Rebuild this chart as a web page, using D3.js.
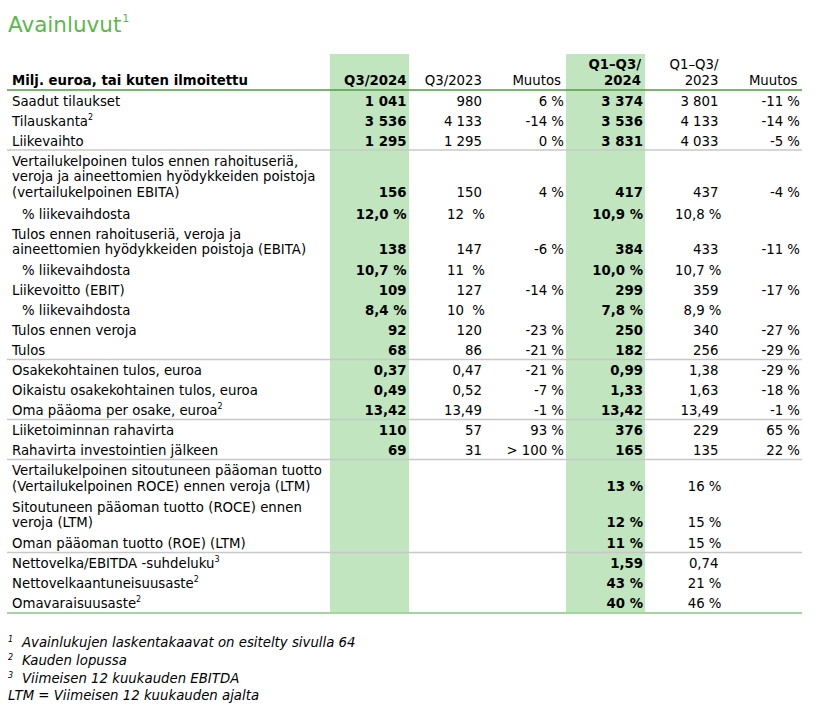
<!DOCTYPE html>
<html><head><meta charset="utf-8">
<script src="https://cdn.jsdelivr.net/npm/d3@7"></script>
<style>
html,body{margin:0;padding:0;background:#fff;}
svg text{font-family:"DejaVu Sans",Verdana,sans-serif;white-space:pre;}
</style></head>
<body><svg id="c" width="831" height="708"></svg>
<script>
// ---------- DATA ----------
const title = "Avainluvut";
const headerLabel = "Milj. euroa, tai kuten ilmoitettu";
const columnHeaders = [["Q3/2024"], ["Q3/2023"], ["Muutos"], ["Q1\u2013Q3/", "2024"], ["Q1\u2013Q3/", "2023"], ["Muutos"]];
const rowLabels = [
  ["Saadut tilaukset"],
  ["Tilauskanta"],
  ["Liikevaihto"],
  ["Vertailukelpoinen tulos ennen rahoituseriä,", "veroja ja aineettomien hyödykkeiden poistoja", "(vertailukelpoinen EBITA)"],
  ["% liikevaihdosta"],
  ["Tulos ennen rahoituseriä, veroja ja", "aineettomien hyödykkeiden poistoja (EBITA)"],
  ["% liikevaihdosta"],
  ["Liikevoitto (EBIT)"],
  ["% liikevaihdosta"],
  ["Tulos ennen veroja"],
  ["Tulos"],
  ["Osakekohtainen tulos, euroa"],
  ["Oikaistu osakekohtainen tulos, euroa"],
  ["Oma pääoma per osake, euroa"],
  ["Liiketoiminnan rahavirta"],
  ["Rahavirta investointien jälkeen"],
  ["Vertailukelpoinen sitoutuneen pääoman tuotto", "(Vertailukelpoinen ROCE) ennen veroja (LTM)"],
  ["Sitoutuneen pääoman tuotto (ROCE) ennen", "veroja (LTM)"],
  ["Oman pääoman tuotto (ROE) (LTM)"],
  ["Nettovelka/EBITDA -suhdeluku"],
  ["Nettovelkaantuneisuusaste"],
  ["Omavaraisuusaste"]
];
const rowNotes = ["", "2", "", "", "", "", "", "", "", "", "", "", "", "2", "", "", "", "", "", "3", "2", "2"];
const rowIndented = [false, false, false, false, true, false, true, false, true, false, false, false, false, false, false, false, false, false, false, false, false, false];
const q3_2024 = ["1 041", "3 536", "1 295", "156", "12,0 %", "138", "10,7 %", "109", "8,4 %", "92", "68", "0,37", "0,49", "13,42", "110", "69", "", "", "", "", "", ""];
const q3_2023 = ["980", "4 133", "1 295", "150", "12  %", "147", "11  %", "127", "10  %", "120", "86", "0,47", "0,52", "13,49", "57", "31", "", "", "", "", "", ""];
const changeQ3 = ["6 %", "-14 %", "0 %", "4 %", "", "-6 %", "", "-14 %", "", "-23 %", "-21 %", "-21 %", "-7 %", "-1 %", "93 %", "> 100 %", "", "", "", "", "", ""];
const ytd_2024 = ["3 374", "3 536", "3 831", "417", "10,9 %", "384", "10,0 %", "299", "7,8 %", "250", "182", "0,99", "1,33", "13,42", "376", "165", "13 %", "12 %", "11 %", "1,59", "43 %", "40 %"];
const ytd_2023 = ["3 801", "4 133", "4 033", "437", "10,8 %", "433", "10,7 %", "359", "8,9 %", "340", "256", "1,38", "1,63", "13,49", "229", "135", "16 %", "15 %", "15 %", "0,74", "21 %", "46 %"];
const changeYtd = ["-11 %", "-14 %", "-5 %", "-4 %", "", "-11 %", "", "-17 %", "", "-27 %", "-29 %", "-29 %", "-18 %", "-1 %", "65 %", "22 %", "", "", "", "", "", ""];
const separatorsAfter = [2, 10, 13, 15, 18];
const footnoteMarks = ["1", "2", "3", ""];
const footnoteTexts = ["Avainlukujen laskentakaavat on esitelty sivulla 64", "Kauden lopussa", "Viimeisen 12 kuukauden EBITDA", "LTM = Viimeisen 12 kuukauden ajalta"];

// ---------- LAYOUT ----------
const svg = d3.select("#c");
const FS = 13.3;
const columns = [q3_2024, q3_2023, changeQ3, ytd_2024, ytd_2023, changeYtd];
const colKeys = d3.range(columns.length);
const colRight = d3.scaleOrdinal().domain(colKeys).range([406.5, 482, 564, 643, 718.5, 800]);
const headRight = d3.scaleOrdinal().domain(colKeys).range([406.5, 482, 561, 641, 718.5, 797.5]);
const boldCol = d3.scaleOrdinal().domain(colKeys).range([true, false, false, true, false, false]);
const highlight = [{x0: 330, x1: 409}, {x0: 566, x1: 645}];

// row baselines computed cumulatively
const ROW = 20, EXTRA = 16.5, LINE = 15.75;
const firstBase = [];
let base = 105.5;
rowLabels.forEach((lines, i) => {
  firstBase.push(base);
  base += (lines.length - 1) * EXTRA + ROW;
});
const yRow = d3.scaleOrdinal().domain(d3.range(rowLabels.length)).range(firstBase);
const lastBase = i => yRow(i) + (rowLabels[i].length - 1) * LINE;

const tableTop = 54, headerLine = 90;
const bottomLine = lastBase(rowLabels.length - 1) + 5;
const xLeft = 7, xRight = 802;

// highlight columns
svg.selectAll("rect.hl").data(highlight).join("rect")
  .attr("x", d => d.x0).attr("y", tableTop)
  .attr("width", d => d.x1 - d.x0).attr("height", bottomLine - tableTop)
  .attr("fill", "#c1e5bf");

// title
const t = svg.append("text").attr("x", 8).attr("y", 32)
  .attr("font-size", 21.5).attr("fill", "#5cb84c").text(title);
t.append("tspan").attr("font-size", 11).attr("dy", -10).attr("dx", 1).text("1");

// header
svg.append("text").attr("x", 12).attr("y", 85).attr("font-size", FS)
  .attr("font-weight", "bold").text(headerLabel);
columnHeaders.forEach((lines, c) => {
  lines.forEach((ln, k) => {
    svg.append("text").attr("x", headRight(c)).attr("y", 85 - (lines.length - 1 - k) * 16.5)
      .attr("text-anchor", "end").attr("font-size", FS)
      .attr("font-weight", boldCol(c) ? "bold" : "normal").text(ln);
  });
});
svg.append("line").attr("x1", xLeft).attr("x2", xRight).attr("y1", headerLine).attr("y2", headerLine)
  .attr("stroke", "#4e9e41").attr("stroke-width", 1.5);

// row labels
rowLabels.forEach((lines, i) => {
  lines.forEach((ln, k) => {
    const tx = svg.append("text").attr("x", rowIndented[i] ? 22 : 12)
      .attr("y", yRow(i) + k * LINE).attr("font-size", FS).text(ln);
    if (k === lines.length - 1 && rowNotes[i]) {
      tx.append("tspan").attr("font-size", 8).attr("dy", -6).text(rowNotes[i]);
    }
  });
});

// values
columns.forEach((vals, c) => {
  svg.append("g").selectAll("text").data(vals.map((v, i) => ({v, i})).filter(d => d.v !== ""))
    .join("text")
    .attr("x", d => colRight(c) + ((c === 1 || c === 4) && /%$/.test(d.v) ? 3 : 0))
    .attr("y", d => lastBase(d.i))
    .attr("text-anchor", "end").attr("font-size", FS)
    .attr("font-weight", boldCol(c) ? "bold" : "normal")
    .text(d => d.v);
});

// separators
svg.selectAll("line.sep").data(separatorsAfter).join("line")
  .attr("x1", xLeft).attr("x2", xRight)
  .attr("y1", d => lastBase(d) + 4.5).attr("y2", d => lastBase(d) + 4.5)
  .attr("stroke", "#c8c8c8").attr("stroke-width", 1.5);
svg.append("line").attr("x1", xLeft).attr("x2", xRight).attr("y1", bottomLine).attr("y2", bottomLine)
  .attr("stroke", "#a3d69c").attr("stroke-width", 2);

// footnotes
const fnBase = [646.5, 664.5, 682.5, 700];
footnoteTexts.forEach((txt, i) => {
  if (footnoteMarks[i]) {
    svg.append("text").attr("x", 8).attr("y", fnBase[i] - 5).attr("font-size", 8)
      .attr("font-style", "italic").text(footnoteMarks[i]);
    svg.append("text").attr("x", 22).attr("y", fnBase[i]).attr("font-size", FS)
      .attr("font-style", "italic").text(txt);
  } else {
    svg.append("text").attr("x", 8).attr("y", fnBase[i]).attr("font-size", FS)
      .attr("font-style", "italic").text(txt);
  }
});
</script></body></html>
